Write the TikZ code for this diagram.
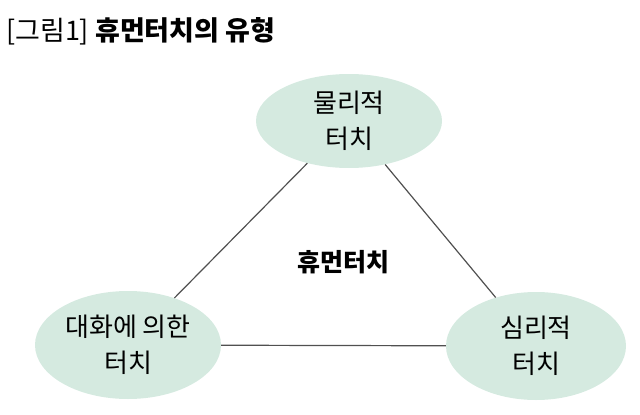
\documentclass[tikz,border=0pt]{standalone}
\usepackage{fontspec}
\setmainfont{Noto Sans CJK KR}
\usetikzlibrary{shapes.geometric}
\definecolor{touchgreen}{RGB}{213,234,224}
\definecolor{linegray}{RGB}{80,80,80}
\tikzset{
    touch/.style={ellipse, fill=touchgreen, minimum width=186pt, minimum height=94pt,
        align=center, font=\fontsize{26}{36}\selectfont, inner sep=0pt},
    link/.style={draw=linegray, line width=1.2pt}
}
\begin{document}
\begin{tikzpicture}[x=1pt,y=-1pt]
    \useasboundingbox (0,0) rectangle (640,415);

    % Title
    \node[anchor=west, font=\fontsize{27}{30}\selectfont, inner sep=0pt] (title) at (6,31)
        {[그림1] \textbf{휴먼터치의 유형}};

    % Three kinds of touch
    \node[touch] (physical) at (349,121) {물리적\\터치};
    \node[touch, minimum height=108pt] (talk) at (128,345) {대화에 의한\\터치};
    \node[touch, minimum width=180pt, minimum height=108pt] (mental) at (536,346) {심리적\\터치};

    % Centre label
    \node[font=\fontsize{25}{28}\selectfont\bfseries] (human) at (343,262) {휴먼터치};

    % Connections
    \draw[link] (physical) -- (talk);
    \draw[link] (physical) -- (mental);
    \draw[link] (talk) -- (mental);
\end{tikzpicture}
\end{document}
